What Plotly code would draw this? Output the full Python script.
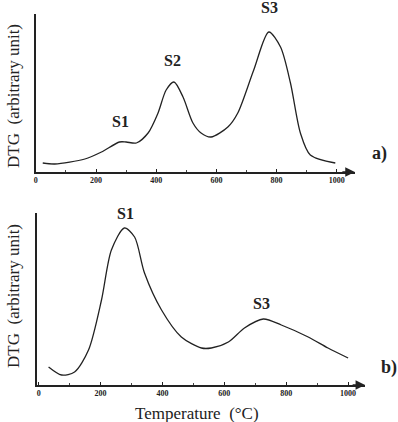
import plotly.graph_objects as go

# Panel a) DTG curve
temp_a = [23, 63, 163, 218, 278, 300, 334, 373, 406, 433, 459, 489, 522, 549,
          582, 638, 671, 724, 774, 813, 846, 879, 912, 995]
dtg_a = [9, 8, 13, 20, 30, 30, 29, 39, 59, 82, 90, 75, 49, 39,
         35, 45, 59, 102, 140, 125, 89, 39, 17, 9]

# Panel b) DTG curve
temp_b = [32, 74, 116, 161, 203, 235, 277, 310, 342, 397, 461, 526, 558,
          613, 665, 726, 784, 871, 935, 1000]
dtg_b = [18, 10, 13, 35, 85, 135, 157, 148, 112, 75, 48, 37, 37,
         43, 57, 66, 60, 48, 37, 27]

tick_vals = [0, 200, 400, 600, 800, 1000]
tick_text = ["0", "200", "400", "600", "800", "1000"]

# peak labels: (temperature, height, text)
peaks_a = [(280, 51, "S1"), (455, 112, "S2"), (775, 164, "S3")]
peaks_b = [(280, 172, "S1"), (720, 82, "S3")]

SERIF = "Liberation Serif"
W, H = 398, 422

fig = go.Figure()
fig.add_trace(go.Scatter(x=temp_a, y=dtg_a, mode="lines", line=dict(color="#222", width=1.3, shape="spline", smoothing=0.8),
                         xaxis="x", yaxis="y", showlegend=False))
fig.add_trace(go.Scatter(x=temp_b, y=dtg_b, mode="lines", line=dict(color="#222", width=1.3, shape="spline", smoothing=0.8),
                         xaxis="x2", yaxis="y2", showlegend=False))

def px_x(p):
    return p / W

def px_y(p):
    return 1 - p / H

xa_common = dict(showline=True, linecolor="#222", linewidth=1.6, showgrid=False, zeroline=False,
                 tickvals=tick_vals, ticktext=tick_text, ticks="inside", ticklen=3, tickcolor="#222",
                 minor=dict(dtick=100, ticks="inside", ticklen=2, tickcolor="#444"),
                 tickfont=dict(family=SERIF, size=8, color="#222", weight="bold"))
ya_common = dict(showline=True, linecolor="#222", linewidth=1.6, showgrid=False, zeroline=False,
                 showticklabels=False, ticks="")

# top panel geometry: y axis from px 14 to 172, value range 0..158
Y0_A, Y1_A, R_A = 172, 14, 158
Y0_B, Y1_B, R_B = 385, 213, 172

fig.update_layout(
    xaxis=dict(domain=[px_x(34), px_x(34 + 1060 * 0.3025)], range=[0, 1060], anchor="y", **xa_common),
    yaxis=dict(domain=[px_y(Y0_A), px_y(Y1_A)], range=[0, R_A], anchor="x", **ya_common),
    xaxis2=dict(domain=[px_x(35), px_x(35 + 1061 * 0.311)], range=[-6, 1055], anchor="y2", **xa_common),
    yaxis2=dict(domain=[px_y(Y0_B), px_y(Y1_B)], range=[0, R_B], anchor="x2", **ya_common),
)

def val_to_paper(v, y0, y1, r):
    # map a value of the y range to paper coordinate (allows values beyond range)
    return px_y(y0) + (px_y(y1) - px_y(y0)) * v / r

C = dict(xanchor="center", yanchor="middle")
LF = dict(family=SERIF, size=16, color="#222", weight="bold")
ann = []
for t, h, s in peaks_a:
    ann.append(dict(x=t, y=val_to_paper(h, Y0_A, Y1_A, R_A), xref="x", yref="paper", text=s,
                    showarrow=False, **C, font=LF))
for t, h, s in peaks_b:
    ann.append(dict(x=t, y=val_to_paper(h, Y0_B, Y1_B, R_B), xref="x2", yref="paper", text=s,
                    showarrow=False, **C, font=LF))
# arrows at end of x axes
ann.append(dict(x=1060, y=0, xref="x", yref="y", text="", showarrow=True, ax=-14, ay=0,
                arrowhead=2, arrowsize=1.2, arrowwidth=1.6, arrowcolor="#222"))
ann.append(dict(x=1055, y=0, xref="x2", yref="y2", text="", showarrow=True, ax=-14, ay=0,
                arrowhead=2, arrowsize=1.2, arrowwidth=1.6, arrowcolor="#222"))
# panel labels
ann.append(dict(x=px_x(379), y=px_y(153), xref="paper", yref="paper", text="a)", showarrow=False, **C,
                font=dict(family=SERIF, size=18, color="#222", weight="bold")))
ann.append(dict(x=px_x(389), y=px_y(367), xref="paper", yref="paper", text="b)", showarrow=False, **C,
                font=dict(family=SERIF, size=18, color="#222", weight="bold")))
# y titles
ann.append(dict(x=px_x(11), y=px_y(96), xref="paper", yref="paper", text="DTG  (arbitrary unit)", textangle=-90,
                showarrow=False, **C, font=dict(family=SERIF, size=17, color="#222")))
ann.append(dict(x=px_x(11), y=px_y(296), xref="paper", yref="paper", text="DTG  (arbitrary unit)", textangle=-90,
                showarrow=False, **C, font=dict(family=SERIF, size=17, color="#222")))
# x title
ann.append(dict(x=px_x(196), y=px_y(413), xref="paper", yref="paper", text="Temperature  (°C)",
                showarrow=False, **C, font=dict(family=SERIF, size=17, color="#222")))

fig.update_layout(width=W, height=H, margin=dict(l=0, r=0, t=0, b=0),
                  paper_bgcolor="white", plot_bgcolor="white", annotations=ann)

fig.write_html("out.html")
